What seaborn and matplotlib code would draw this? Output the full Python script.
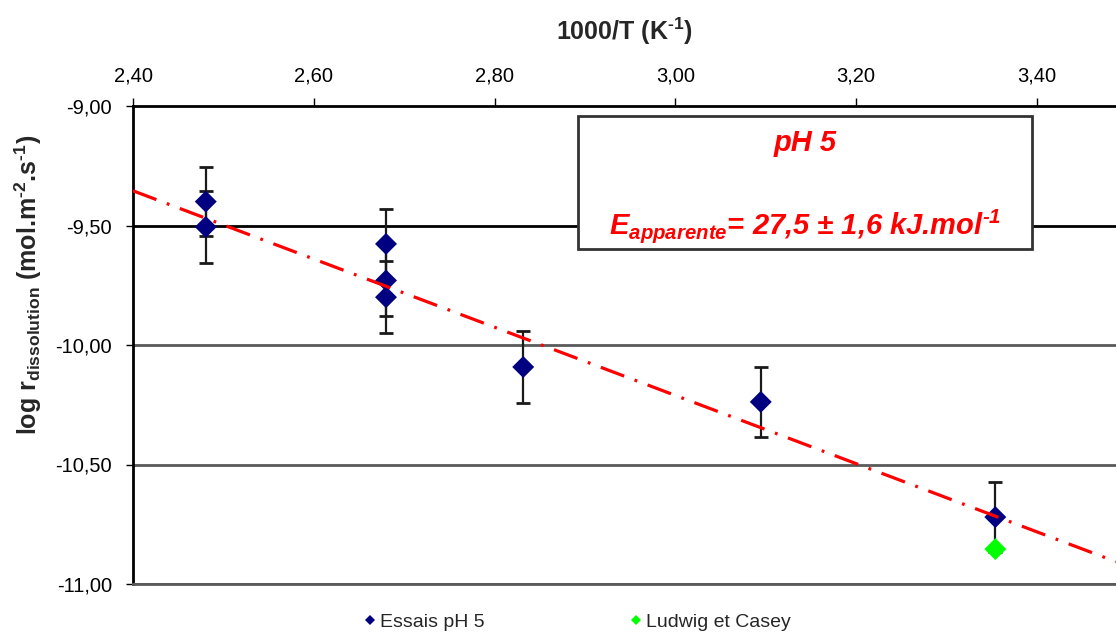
import matplotlib
matplotlib.use('Agg')
import matplotlib.pyplot as plt
import seaborn as sns
import pandas as pd
from matplotlib.patches import Rectangle
from matplotlib.lines import Line2D
from matplotlib.ticker import FuncFormatter, FixedLocator

# ---- data ----
inv_T_essais = [2.4805, 2.4805, 2.6799, 2.6799, 2.6799, 2.8317, 3.0945, 3.3540]
log_r_essais = [-9.400, -9.506, -9.577, -9.730, -9.800, -10.092, -10.238, -10.720]
err_essais = [0.145, 0.150, 0.145, 0.150, 0.150, 0.150, 0.145, 0.145]
inv_T_ludwig = [3.3540]
log_r_ludwig = [-10.854]
fit_slope = -1.427
fit_intercept = -5.930
x_ticks = [2.40, 2.60, 2.80, 3.00, 3.20, 3.40]
y_ticks = [-9.00, -9.50, -10.00, -10.50, -11.00]
series_names = ['Essais pH 5', 'Ludwig et Casey']
series_colors = ['#000080', '#00ff00']

# ---- style ----
sns.set_style('white')
plt.rcParams['font.family'] = ['Liberation Sans', 'DejaVu Sans']
plt.rcParams['mathtext.fontset'] = 'custom'
plt.rcParams['mathtext.rm'] = 'Liberation Sans'
plt.rcParams['mathtext.it'] = 'Liberation Sans:italic'
plt.rcParams['mathtext.bf'] = 'Liberation Sans:bold'
plt.rcParams['mathtext.bfit'] = 'Liberation Sans:italic:bold'
plt.rcParams['lines.scale_dashes'] = False

HY = '\u2010'  # short hyphen for superscripts

W, H = 1116, 632
fig = plt.figure(figsize=(W / 100, H / 100), dpi=100)
L, R, T, B = 133, 1116, 106, 584
ax = fig.add_axes([L / W, 1 - B / H, (R - L) / W, (B - T) / H])

df = pd.concat([
    pd.DataFrame({'x': inv_T_essais, 'y': log_r_essais, 'serie': series_names[0]}),
    pd.DataFrame({'x': inv_T_ludwig, 'y': log_r_ludwig, 'serie': series_names[1]}),
], ignore_index=True)

# gridlines
for yv in y_ticks[1:]:
    ax.axhline(yv, color='black' if yv == -9.50 else '#5a5a5a', lw=2, zorder=1)

ax.errorbar(inv_T_essais, log_r_essais, yerr=err_essais, fmt='none',
            ecolor='#1a1a1a', elinewidth=1.6, capsize=5, capthick=2, zorder=3)
sns.scatterplot(data=df, x='x', y='y', hue='serie',
                palette=dict(zip(series_names, series_colors)),
                marker='D', s=125, linewidth=0, ax=ax, zorder=4, legend=False)

ax.axline((0, fit_intercept), slope=fit_slope, color='#ff0000', lw=2.3,
          linestyle=(0, (18, 8, 2, 8)), zorder=5)

ax.set_xlim(2.40, 3.4875)
ax.set_ylim(-11.0, -9.0)
fmt = FuncFormatter(lambda v, p: f'{v:.2f}'.replace('.', ','))
ax.xaxis.set_major_locator(FixedLocator(x_ticks))
ax.yaxis.set_major_locator(FixedLocator(y_ticks))
ax.xaxis.set_major_formatter(fmt)
ax.yaxis.set_major_formatter(fmt)
ax.xaxis.tick_top()
ax.tick_params(axis='x', direction='out', length=6, width=1, pad=9,
               labelsize=14.5, colors='black', bottom=False, top=True)
ax.tick_params(axis='y', direction='out', length=5, width=1, pad=10,
               labelsize=14.5, colors='black', left=True)

for s in ['top', 'left']:
    ax.spines[s].set_color('black')
    ax.spines[s].set_linewidth(2)
ax.spines['bottom'].set_color('#5a5a5a')
ax.spines['bottom'].set_linewidth(2)
ax.spines['right'].set_visible(False)

ax.set_xlabel('1000/T (K$^{\\mathbf{' + HY + '1}}$)', fontsize=18, fontweight='bold')
ax.xaxis.set_label_position('top')
ax.xaxis.set_label_coords(0.5, (B - 40) / (B - T))
ax.set_ylabel('log r$_{\\mathbf{dissolution}}$ (mol.m$^{\\mathbf{' + HY + '2}}$.s$^{\\mathbf{'
              + HY + '1}}$)', fontsize=18, fontweight='bold')
ax.yaxis.set_label_coords((44 - L) / (R - L), (B - 285) / (B - T))

# annotation box
bx0, bx1, by0, by1 = 578, 1032, 116, 249
ax.add_patch(Rectangle(((bx0 - L) / (R - L), (B - by1) / (B - T)),
                       (bx1 - bx0) / (R - L), (by1 - by0) / (B - T),
                       transform=ax.transAxes, facecolor='white',
                       edgecolor='#333333', lw=2, zorder=6, clip_on=False))
cx = ((bx0 + bx1) / 2 - L) / (R - L)
ax.text(cx, (B - 143) / (B - T), 'pH 5', transform=ax.transAxes, ha='center',
        va='center', color='#ff0000', fontsize=21, fontweight='bold',
        fontstyle='italic', zorder=7)
ax.text(cx, (B - 226) / (B - T),
        '$\\mathbfit{E}_{\\mathbfit{apparente}}$= 27,5 ± 1,6 kJ.mol$^{\\mathbfit{' + HY + '1}}$',
        transform=ax.transAxes, ha='center', va='center', color='#ff0000',
        fontsize=21, fontweight='bold', fontstyle='italic', zorder=7)

handles = [Line2D([], [], marker='D', ls='none', color=c, markersize=5.5,
                  markeredgewidth=0) for c in series_colors]
fig.legend(handles, series_names, loc='center', bbox_to_anchor=(577 / W, 1 - 622 / H),
           ncol=2, frameon=False, fontsize=14, handlelength=0.7,
           handletextpad=0.2, columnspacing=7.4, borderpad=0, borderaxespad=0)

fig.savefig('out.png', dpi=100)
